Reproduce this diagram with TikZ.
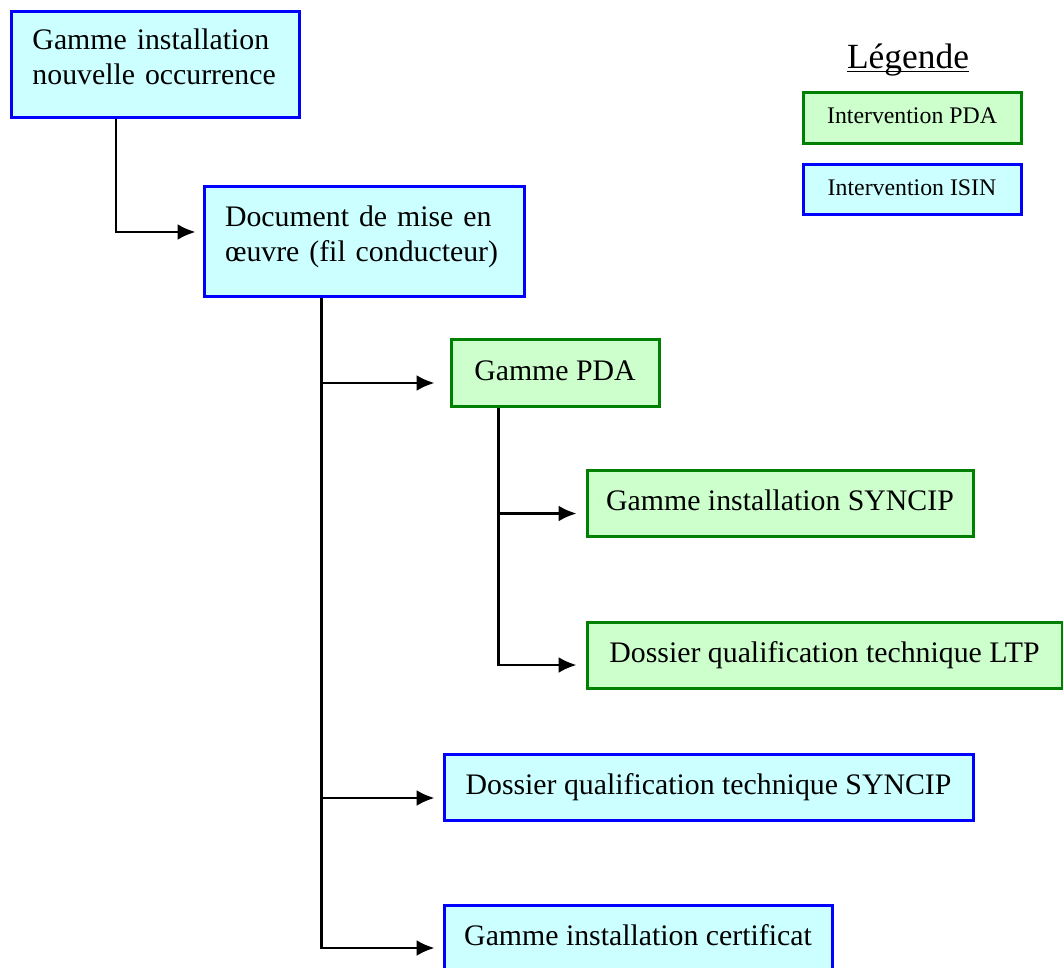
\documentclass[tikz,border=0pt]{standalone}
\usepackage{fontspec}
\setmainfont{Liberation Serif}
\usepackage{tikz}
\usetikzlibrary{arrows,arrows.meta,calc,positioning}
\definecolor{isinfill}{RGB}{204,255,255}
\definecolor{isinline}{RGB}{0,0,255}
\definecolor{pdafill}{RGB}{204,255,204}
\definecolor{pdaline}{RGB}{0,128,0}

\begin{document}
\begin{tikzpicture}[x=0.5pt,y=-0.5pt,
  font=\fontsize{14.9}{17.5}\selectfont,
  box/.style={draw,line width=1.5pt,inner sep=0pt,text height=10pt,text depth=3pt},
  isin/.style={box,draw=isinline,fill=isinfill},
  pda/.style={box,draw=pdaline,fill=pdafill},
  twoline/.style={inner xsep=10.5pt,align=left,text height=10pt,text depth=25pt},
  legbox/.style={font=\fontsize{11.9}{13}\selectfont,text height=7.5pt,text depth=2pt,minimum width=109pt},
  link/.style={-{Latex[length=9pt,width=8pt]},line width=1.3pt}]
\useasboundingbox (0,0) rectangle (1063,967);
\node[isin,twoline,text width=123pt,minimum height=53pt] (gio) at (155.5,65) {Gamme installation\\nouvelle occurrence};
\node[isin,twoline,text width=139pt,minimum height=55pt] (doc) at (364,242) {Document de mise en\\œuvre (fil conducteur)};
\node[pda,minimum width=104pt,minimum height=33pt] (gpda) at (555,373) {Gamme PDA};
\node[pda,minimum width=193pt,minimum height=33pt] (gsyn) at (780,503.5) {Gamme installation SYNCIP};
\node[pda,minimum width=237.5pt,minimum height=33pt] (dltp) at (824.5,655) {Dossier qualification technique LTP};
\node[isin,minimum width=264.5pt,minimum height=33pt] (dsyn) at (708.5,787) {Dossier qualification technique SYNCIP};
\node[isin,minimum width=194pt,minimum height=33pt] (gcert) at (638,938) {Gamme installation certificat};
\node[font=\fontsize{17.7}{20}\selectfont,anchor=base] (leg) at (908,69) {\underline{\smash{Légende}}};
\node[pda,legbox,minimum height=25.5pt] (lpda) at (912,118.5) {Intervention PDA};
\node[isin,legbox,minimum height=25pt] (lisin) at (912,190) {Intervention ISIN};
\draw[link,shorten >=3.5pt] (gio.south west) ++(106,0) |- ($(doc.west)+(0,-10)$);
\draw[link,shorten >=7.5pt] (doc.south west) ++(119,0) coordinate (T) |- ($(gpda.west)+(0,10)$);
\draw[link,shorten >=4pt] (T) |- ($(dsyn.west)+(0,11)$);
\draw[link,shorten >=4pt] (T) |- ($(gcert.west)+(0,10)$);
\draw[link,shorten >=4.5pt] (gpda.south west) ++(49,0) coordinate (P) |- ($(gsyn.west)+(0,10)$);
\draw[link,shorten >=4.5pt] (P) |- ($(dltp.west)+(0,10)$);
\end{tikzpicture}
\end{document}
